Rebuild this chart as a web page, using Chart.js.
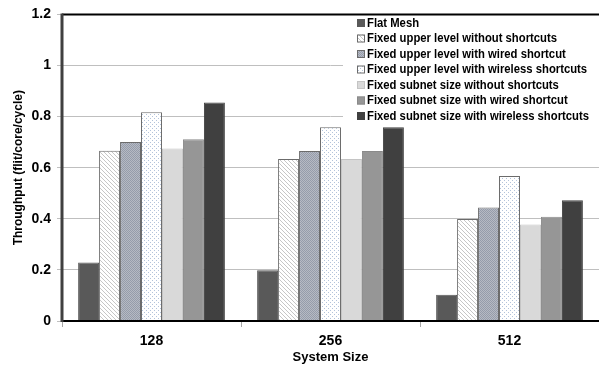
<!DOCTYPE html>
<html>
<head>
<meta charset="utf-8">
<script src="https://cdn.jsdelivr.net/npm/chart.js@4"></script>
<style>
  html, body { margin: 0; padding: 0; background: #fff; }
  #wrap { width: 599px; height: 365px; }
</style>
</head>
<body>
<div id="wrap"><canvas id="grafico"></canvas></div>
<script>
const categories = ["128", "256", "512"];
const seriesNames = [
  "Flat Mesh",
  "Fixed upper level without shortcuts",
  "Fixed upper level with wired shortcut",
  "Fixed upper level with wireless shortcuts",
  "Fixed subnet size without shortcuts",
  "Fixed subnet size with wired shortcut",
  "Fixed subnet size with wireless shortcuts",
];
const flatMesh = [0.229, 0.199, 0.103];
const upperNoShortcut = [0.666, 0.634, 0.399];
const upperWired = [0.701, 0.665, 0.444];
const upperWireless = [0.817, 0.758, 0.568];
const subnetNoShortcut = [0.675, 0.634, 0.378];
const subnetWired = [0.711, 0.665, 0.408];
const subnetWireless = [0.855, 0.758, 0.473];
const yTicks = [0, 0.2, 0.4, 0.6, 0.8, 1, 1.2];

const FONT = '"Liberation Sans", Arial, sans-serif';

// patterns for the hatched / dotted bars
function hatch() {
  const c = document.createElement("canvas");
  c.width = 4; c.height = 4;
  const g = c.getContext("2d");
  g.fillStyle = "#fff"; g.fillRect(0, 0, 4, 4);
  g.strokeStyle = "#c6c6c6"; g.lineWidth = 1;
  g.beginPath();
  g.moveTo(-1, -1); g.lineTo(5, 5);
  g.moveTo(-1, 3); g.lineTo(1, 5);
  g.moveTo(3, -1); g.lineTo(5, 1);
  g.stroke();
  return g.createPattern(c, "repeat");
}
function dots(bg, dot, step) {
  const c = document.createElement("canvas");
  c.width = step; c.height = step;
  const g = c.getContext("2d");
  g.fillStyle = bg; g.fillRect(0, 0, step, step);
  g.fillStyle = dot;
  g.fillRect(0, 0, 1, 1);
  g.fillRect(step / 2, step / 2, 1, 1);
  return g.createPattern(c, "repeat");
}

const fills = [
  "#595959",
  hatch(),
  dots("#b6bac3", "#959cab", 2),
  dots("#ffffff", "#b3c3da", 4),
  "#d9d9d9",
  "#969696",
  "#404040",
];
const borders = ["#595959", "#6b6b6b", "#6b6b6b", "#6b6b6b", "#c4c4c4", "#8a8a8a", "#404040"];
const values = [flatMesh, upperNoShortcut, upperWired, upperWireless, subnetNoShortcut, subnetWired, subnetWireless];

const frame = {
  id: "frame",
  beforeDatasetsDraw(chart) {
    const { ctx, chartArea: a } = chart;
    // legend box hides the grid behind it
    ctx.save();
    ctx.fillStyle = "#fff";
    ctx.fillRect(343, a.top + 1, 260, 111);
    ctx.restore();
  },
  afterDraw(chart) {
    const { ctx, chartArea: a } = chart;
    ctx.save();
    ctx.strokeStyle = "#000";
    ctx.lineWidth = 2;
    ctx.beginPath();
    ctx.moveTo(a.left, a.top); ctx.lineTo(a.right, a.top);
    ctx.moveTo(a.left, a.bottom); ctx.lineTo(a.right, a.bottom);
    ctx.stroke();
    ctx.strokeStyle = "#404040";
    ctx.lineWidth = 3;
    ctx.beginPath();
    ctx.moveTo(a.left, a.top - 1); ctx.lineTo(a.left, a.bottom + 1);
    ctx.stroke();

    // legend, squeezed to the narrow width of the original font
    ctx.font = "bold 12px " + FONT;
    ctx.textBaseline = "middle";
    const longest = Math.max(...chart.data.datasets.map(d => ctx.measureText(d.label).width));
    const sx = 222 / longest;
    chart.data.datasets.forEach((ds, i) => {
      const y = 23 + i * 15.5;
      ctx.fillStyle = ds.backgroundColor;
      ctx.fillRect(357, y - 4, 8, 8);
      ctx.strokeStyle = ds.borderColor;
      ctx.lineWidth = 1;
      ctx.strokeRect(357.5, y - 3.5, 7, 7);
      ctx.fillStyle = "#000";
      ctx.save();
      ctx.translate(367, y + 0.5);
      ctx.scale(sx, 1);
      ctx.fillText(ds.label, 0, 0);
      ctx.restore();
    });
    ctx.restore();
  },
};

new Chart(document.getElementById("grafico"), {
  type: "bar",
  data: {
    labels: categories,
    datasets: seriesNames.map((name, i) => ({
      label: name,
      data: values[i],
      backgroundColor: fills[i],
      borderColor: borders[i],
      borderWidth: 1,
      borderSkipped: "bottom",
      categoryPercentage: 0.82,
      barPercentage: 1,
    })),
  },
  options: {
    responsive: true,
    maintainAspectRatio: false,
    animation: false,
    layout: { padding: { top: 14, right: 0, left: 0, bottom: 0 } },
    plugins: { legend: { display: false }, tooltip: { enabled: false } },
    scales: {
      x: {
        grid: { offset: true, drawOnChartArea: false, drawTicks: true, tickLength: 6, color: "#a6a6a6" },
        border: { display: false },
        ticks: { color: "#000", font: { family: FONT, size: 14, weight: "bold" }, padding: 6 },
        title: { display: true, text: "System Size", color: "#000", font: { family: FONT, size: 13, weight: "bold" }, padding: 0 },
        afterFit(s) { s.height = 44; },
      },
      y: {
        min: 0,
        max: 1.2,
        afterBuildTicks(s) { s.ticks = yTicks.map(v => ({ value: v })); },
        grid: { color: "#bfbfbf", tickLength: 5, drawTicks: true },
        border: { display: false },
        ticks: {
          color: "#000",
          font: { family: FONT, size: 14, weight: "bold" },
          padding: 6,
          callback: v => String(Math.round(v * 10) / 10),
        },
        title: { display: true, text: "Throughput (flit/core/cycle)", color: "#000", font: { family: FONT, size: 12, weight: "bold" }, padding: { top: 11, bottom: 0 } },
        afterFit(s) { s.width = 62; },
      },
    },
  },
  plugins: [frame],
});
</script>
</body>
</html>
